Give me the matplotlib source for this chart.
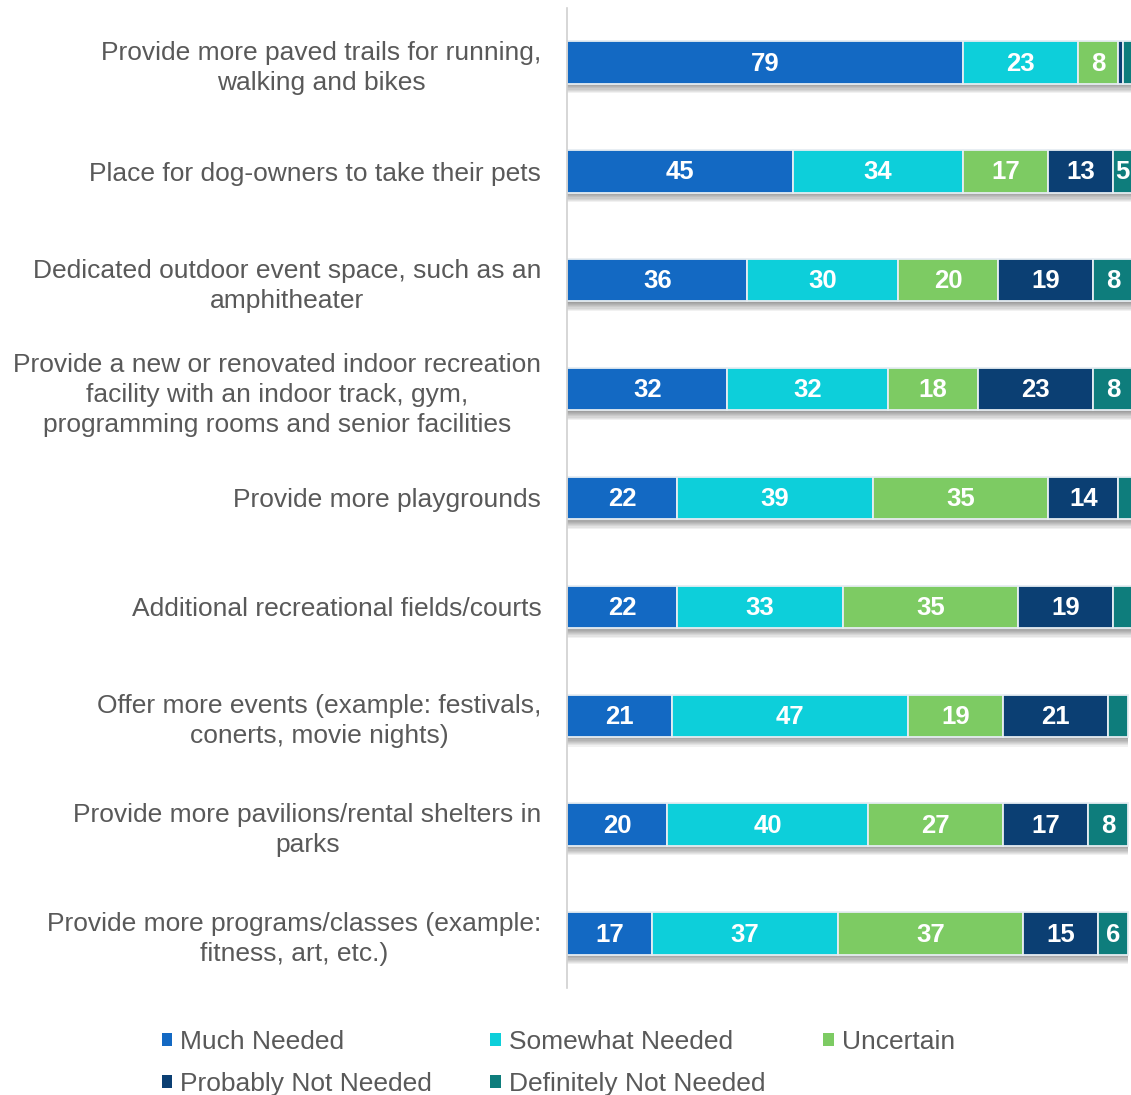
import matplotlib.pyplot as plt
from matplotlib.patches import Patch

plt.rcParams['font.family'] = ['Liberation Sans', 'DejaVu Sans']

# survey items, top to bottom
items = [
    "Provide more paved trails for running,\nwalking and bikes",
    "Place for dog-owners to take their pets",
    "Dedicated outdoor event space, such as an\namphitheater",
    "Provide a new or renovated indoor recreation\nfacility with an indoor track, gym,\nprogramming rooms and senior facilities",
    "Provide more playgrounds",
    "Additional recreational fields/courts",
    "Offer more events (example: festivals,\nconerts, movie nights)",
    "Provide more pavilions/rental shelters in\nparks",
    "Provide more programs/classes (example:\nfitness, art, etc.)",
]

much_needed = [79, 45, 36, 32, 22, 22, 21, 20, 17]
somewhat_needed = [23, 34, 30, 32, 39, 33, 47, 40, 37]
uncertain = [8, 17, 20, 18, 35, 35, 19, 27, 37]
probably_not = [1, 13, 19, 23, 14, 19, 21, 17, 15]
definitely_not = [2, 5, 8, 8, 3, 4, 4, 8, 6]

series_names = ["Much Needed", "Somewhat Needed", "Uncertain",
                "Probably Not Needed", "Definitely Not Needed"]
colors = ["#1369c3", "#0dcfda", "#7dcb63", "#0b3f73", "#0e7d7c"]

series = [much_needed, somewhat_needed, uncertain, probably_not, definitely_not]

fig = plt.figure(figsize=(11.31, 10.95), dpi=100)
ax = fig.add_axes([567 / 1131, 107 / 1095, 564 / 1131, 980 / 1095])

xmax = 112.5
bar_h = 0.39
ypos = list(range(len(items)))

# soft drop shadow under each bar
totals = [sum(s[i] for s in series) for i in ypos]
for k in range(8):
    ax.barh([y + 0.011 * (k + 1) for y in ypos], totals, height=bar_h,
            color="black", alpha=0.055, linewidth=0, zorder=1)

left = [0] * len(items)
for vals, name, col in zip(series, series_names, colors):
    ax.barh(ypos, vals, left=left, height=bar_h, color=col,
            edgecolor="#e6edf2", linewidth=1.3, label=name, zorder=2)
    for y, v, l in zip(ypos, vals, left):
        if v >= 5:
            # keep labels of segments running off the right edge readable
            cx = min(l + v / 2, xmax - 1.7)
            ax.text(cx, y + 0.01, str(v), ha="center", va="center",
                    color="white", fontsize=18.5, fontweight="bold", zorder=3)
    left = [a + b for a, b in zip(left, vals)]

ax.set_xlim(0, xmax)
ax.set_ylim(8.5, -0.5)
ax.set_xticks([])
ax.set_yticks(ypos)
ax.set_yticklabels(items, fontsize=19, color="#595959", linespacing=1.32)
for lbl in ax.get_yticklabels():
    lbl.set_multialignment("center")
ax.tick_params(axis="y", length=0, pad=18.5)
for side in ["top", "right", "bottom"]:
    ax.spines[side].set_visible(False)
ax.spines["left"].set_color("#d0d0d0")
ax.spines["left"].set_linewidth(1.2)

# legend filled row by row (matplotlib fills column-first)
order = [0, 3, 1, 4, 2]
handles = [Patch(facecolor=colors[i], edgecolor="none") for i in order]
labels = [series_names[i] for i in order]
fig.legend(handles, labels, ncol=3, loc="upper left",
           bbox_to_anchor=(138 / 1131, 1 - 1006 / 1095), frameon=False,
           fontsize=19, labelcolor="#595959", handlelength=0.4,
           handleheight=0.4, handletextpad=0.3, columnspacing=2.2,
           labelspacing=0.68)

fig.savefig("out.png", dpi=100)
